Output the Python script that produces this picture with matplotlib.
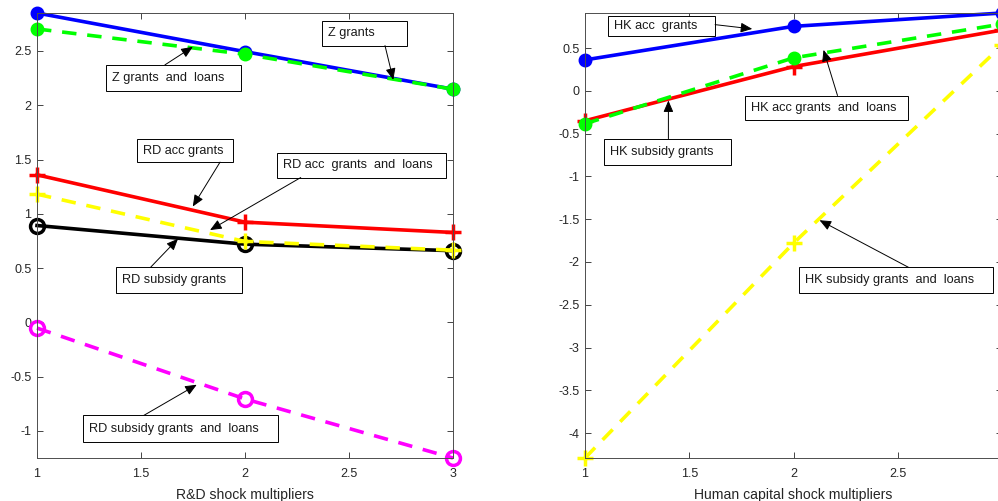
import matplotlib
matplotlib.use("Agg")
import matplotlib.pyplot as plt
from matplotlib.patches import Rectangle

plt.rcParams['font.family'] = ['Liberation Sans', 'DejaVu Sans']

x = [1, 2, 3]

# Left panel: R&D shock multipliers
z_grants = [2.85, 2.494, 2.148]
z_grants_loans = [2.703, 2.47, 2.148]
rd_acc_grants = [1.359, 0.923, 0.828]
rd_subsidy_grants = [0.892, 0.72, 0.66]
rd_acc_grants_loans = [1.181, 0.745, 0.665]
rd_subsidy_grants_loans = [-0.053, -0.706, -1.25]

# Right panel: Human capital shock multipliers
hk_acc_grants = [0.361, 0.753, 0.909]
hk_subsidy_grants = [-0.35, 0.283, 0.71]
hk_acc_grants_loans = [-0.385, 0.385, 0.78]
hk_subsidy_grants_loans = [-4.29, -1.78, 0.53]

left_xlabel = "R&D shock multipliers"
right_xlabel = "Human capital shock multipliers"
xticks = [1, 1.5, 2, 2.5, 3]
left_xticklabels = ["1", "1.5", "2", "2.5", "3"]
right_xticklabels = ["1", "1.5", "2", "2.5", ""]
left_yticks = [-1, -0.5, 0, 0.5, 1, 1.5, 2, 2.5]
right_yticks = [-4, -3.5, -3, -2.5, -2, -1.5, -1, -0.5, 0, 0.5]

# annotations: text, box (x0, x1, y0, y1) in data, tail (x, y), tip (x, y)
left_notes = [
    ("Z grants", (2.369, 2.777, 2.550, 2.777), (2.673, 2.550), (2.713, 2.234)),
    ("Z grants  and  loans", (1.332, 1.979, 2.135, 2.372), (1.615, 2.372), (1.749, 2.538)),
    ("RD acc grants", (1.482, 1.944, 1.476, 1.688), (1.880, 1.476), (1.749, 1.067)),
    ("RD acc  grants  and  loans", (2.152, 2.966, 1.334, 1.559), (2.268, 1.334), (1.832, 0.850)),
    ("RD subsidy grants", (1.378, 1.987, 0.270, 0.509), (1.547, 0.509), (1.678, 0.770)),
    ("RD subsidy grants  and  loans", (1.223, 2.157, -1.102, -0.857), (1.514, -0.857), (1.768, -0.575)),
]
right_notes = [
    ("HK acc  grants", (1.112, 1.624, 0.645, 0.878), (1.624, 0.773), (1.802, 0.723)),
    ("HK subsidy grants", (1.093, 1.701, -0.871, -0.559), (1.400, -0.559), (1.400, -0.113)),
    ("HK acc grants  and  loans", (1.765, 2.549, -0.338, -0.055), (2.211, -0.055), (2.144, 0.478)),
    ("HK subsidy grants  and  loans", (2.027, 2.955, -2.366, -2.063), (2.552, -2.063), (2.125, -1.512)),
]

W, H = 998, 501
fig = plt.figure(figsize=(W / 100, H / 100), dpi=100)
axL = fig.add_axes([37 / W, 1 - 458 / H, (453 - 37) / W, (458 - 13) / H])
axR = fig.add_axes([585 / W, 1 - 458 / H, (1002 - 585) / W, (458 - 13) / H])

LW = 2.6
dash = (0, (4, 3))

def plot_line(ax, y, color, ls, marker, ms, mfc, mew=2.5):
    ax.plot(x, y, color=color, lw=LW, linestyle=ls, marker=marker, ms=ms,
            mfc=mfc, mec=color, mew=mew, clip_on=False)

plot_line(axL, z_grants, '#0000FF', '-', 'o', 8.5, '#0000FF', 1.5)
plot_line(axL, z_grants_loans, '#00FF00', dash, 'o', 8.5, '#00FF00', 1.5)
plot_line(axL, rd_acc_grants, '#FF0000', '-', '+', 11, 'none')
plot_line(axL, rd_subsidy_grants, '#000000', '-', 'o', 10, 'none')
plot_line(axL, rd_acc_grants_loans, '#FFFF00', dash, '+', 11, 'none')
plot_line(axL, rd_subsidy_grants_loans, '#FF00FF', dash, 'o', 10, 'none')

plot_line(axR, hk_acc_grants, '#0000FF', '-', 'o', 8.5, '#0000FF', 1.5)
plot_line(axR, hk_subsidy_grants, '#FF0000', '-', '+', 11, 'none')
plot_line(axR, hk_acc_grants_loans, '#00FF00', dash, 'o', 8.5, '#00FF00', 1.5)
plot_line(axR, hk_subsidy_grants_loans, '#FFFF00', dash, '+', 11, 'none')

axis_col = '#262626'
for ax, yt, ylim, xl, xtl in [(axL, left_yticks, (-1.25, 2.85), left_xlabel, left_xticklabels),
                              (axR, right_yticks, (-4.29, 0.909), right_xlabel, right_xticklabels)]:
    ax.set_xlim(1, 3)
    ax.set_ylim(*ylim)
    ax.set_xticks(xticks)
    ax.set_xticklabels(xtl)
    ax.set_yticks(yt)
    ax.set_yticklabels([f"{v:g}" for v in yt])
    ax.tick_params(direction='in', top=True, right=True, length=4, width=0.6,
                   colors=axis_col, labelsize=9)
    ax.tick_params(axis='x', pad=7)
    ax.tick_params(axis='y', pad=4)
    for s in ax.spines.values():
        s.set_color('#4d4d4d')
        s.set_linewidth(0.7)
    ax.set_xlabel(xl, fontsize=10.1, color=axis_col, labelpad=6)

def add_notes(ax, notes):
    for text, (x0, x1, y0, y1), tail, tip in notes:
        ax.add_patch(Rectangle((x0, y0), x1 - x0, y1 - y0, transform=ax.transData,
                               fc='white', ec='black', lw=0.7, clip_on=False, zorder=5))
        ax.text(x0 + 0.029, (y0 + y1) / 2, text, ha='left', va='center',
                fontsize=9.2, color='#1a1a1a', zorder=6, clip_on=False)
        ax.annotate('', xy=tip, xytext=tail,
                    arrowprops=dict(arrowstyle='-|>,head_length=0.7,head_width=0.3',
                                    color='black', lw=0.7, shrinkA=0, shrinkB=0),
                    annotation_clip=False, zorder=6)

add_notes(axL, left_notes)
add_notes(axR, right_notes)

fig.savefig('out.png', dpi=100)
